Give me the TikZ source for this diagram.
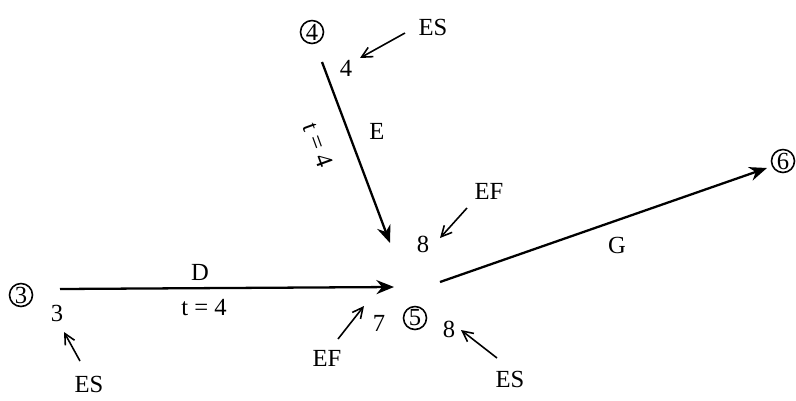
\documentclass[tikz,border=0pt]{standalone}
\usepackage{fontspec}
\setmainfont{Liberation Serif}
\usetikzlibrary{arrows.meta}
\begin{document}
\begin{tikzpicture}[x=0.02cm,y=-0.02cm,
  event/.style={circle,draw,line width=0.9pt,inner sep=0pt,minimum size=0.46cm,font=\fontsize{14}{14}\selectfont},
  lbl/.style={font=\fontsize{14}{16}\selectfont,inner sep=1pt},
  act/.style={line width=1.3pt,-{Stealth[length=10pt,width=8pt]}},
  note/.style={line width=0.9pt,-{Straight Barb[length=6pt,width=6pt]}}]
\useasboundingbox (0,0) rectangle (796,400);
% events
\node[event] (n3) at (21,295) {3};
\node[event] (n4) at (312,32) {4};
\node[event] (n5) at (415,318) {5};
\node[event] (n6) at (783,161) {6};
% activity endpoints
\coordinate (d0) at (60,289);
\coordinate (d1) at (394,287);
\coordinate (e0) at (322,62);
\coordinate (e1) at (390,243);
\coordinate (g0) at (440,282);
\coordinate (g1) at (767,168);
\draw[act] (d0) -- (d1);
\draw[act] (e0) -- (e1);
\draw[act] (g0) -- (g1);
% activity labels
\node[lbl] (lD) at (200,272) {D};
\node[lbl] (tD) at (204,308) {t = 4};
\node[lbl] (lE) at (377,131) {E};
\node[lbl,rotate=-70] (tE) at (318,145) {t = 4};
\node[lbl] (lG) at (617,245) {G};
% times
\node[lbl] (v3) at (57,313) {3};
\node[lbl] (v4) at (346,68) {4};
\node[lbl] (v8a) at (423,244) {8};
\node[lbl] (v7) at (379,323) {7};
\node[lbl] (v8b) at (449,329) {8};
% annotations
\node[lbl] (es1) at (433,27) {ES};
\node[lbl] (ef1) at (489,191) {EF};
\node[lbl] (ef2) at (327,358) {EF};
\node[lbl] (es2) at (89,384) {ES};
\node[lbl] (es3) at (510,379) {ES};
\coordinate (a1s) at (405,33); \coordinate (a1e) at (360,58);
\coordinate (a2s) at (467,208); \coordinate (a2e) at (440,238);
\coordinate (a3s) at (338,339); \coordinate (a3e) at (364,306);
\coordinate (a4s) at (80,361); \coordinate (a4e) at (64,332);
\coordinate (a5s) at (497,358); \coordinate (a5e) at (461,330);
\draw[note] (a1s) -- (a1e);
\draw[note] (a2s) -- (a2e);
\draw[note] (a3s) -- (a3e);
\draw[note] (a4s) -- (a4e);
\draw[note] (a5s) -- (a5e);
\end{tikzpicture}
\end{document}
